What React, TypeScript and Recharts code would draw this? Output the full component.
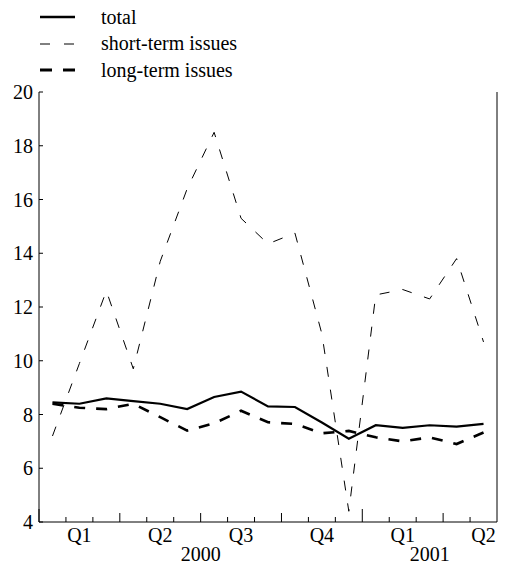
import { LineChart, Line, XAxis, YAxis, Legend } from "recharts";

// monthly figures, Jan 2000 .. May 2001
const months = [
  "Jan 00", "Feb 00", "Mar 00", "Apr 00", "May 00", "Jun 00", "Jul 00", "Aug 00", "Sep 00",
  "Oct 00", "Nov 00", "Dec 00", "Jan 01", "Feb 01", "Mar 01", "Apr 01", "May 01",
];
const total = [8.45, 8.4, 8.6, 8.5, 8.4, 8.2, 8.65, 8.85, 8.3, 8.28, 7.7, 7.1, 7.6, 7.5, 7.6, 7.55, 7.65];
const shortTerm = [7.2, 9.9, 12.6, 9.7, 13.7, 16.4, 18.5, 15.3, 14.35, 14.75, 11.0, 4.4, 12.45, 12.65, 12.3, 13.8, 10.7];
const longTerm = [8.4, 8.25, 8.2, 8.4, 7.9, 7.4, 7.67, 8.14, 7.71, 7.65, 7.3, 7.39, 7.15, 7.0, 7.15, 6.9, 7.33];

// axis labels
const yTicks = [4, 6, 8, 10, 12, 14, 16, 18, 20];
const quarterPos = [1.5, 4.5, 7.5, 10.5, 13.5, 16.5];
const quarterLabels = ["Q1", "Q2", "Q3", "Q4", "Q1", "Q2"];
const yearPos = [6, 14.5];
const yearLabels = ["2000", "2001"];
const monthTicks = months.map((_, i) => i);

const data = months.map((m, i) => ({
  month: m,
  x: i + 0.5,
  total: total[i],
  short: shortTerm[i],
  long: longTerm[i],
}));

const FONT = '"Liberation Serif", "Times New Roman", serif';
const FS = 20;

const XTick = (props: any) => {
  const { x, y, payload } = props;
  const v = payload.value;
  const qi = quarterPos.indexOf(v);
  const yi = yearPos.indexOf(v);
  const isMonth = Number.isInteger(v) && v !== 17;
  let len = 5;
  if (isMonth && v % 12 === 0) len = 13;
  else if (isMonth && v % 3 === 0) len = 9;
  return (
    <g>
      {isMonth && <line x1={x} x2={x} y1={y} y2={y - len} stroke="#000" strokeWidth={1} />}
      {qi >= 0 && (
        <text x={x} y={y + 20} textAnchor="middle" fontSize={FS} fontFamily={FONT} fill="#000">
          {quarterLabels[qi]}
        </text>
      )}
      {yi >= 0 && (
        <text x={x} y={y + 39} textAnchor="middle" fontSize={FS} fontFamily={FONT} fill="#000">
          {yearLabels[yi]}
        </text>
      )}
    </g>
  );
};

const legendItems = [
  { label: "total", width: 2.5, dash: undefined },
  { label: "short-term issues", width: 1, dash: "10 14" },
  { label: "long-term issues", width: 3, dash: "12 11" },
];

const LegendBox = () => (
  <div style={{ fontFamily: FONT, fontSize: FS, color: "#000" }}>
    {legendItems.map((it) => (
      <div key={it.label} style={{ display: "flex", alignItems: "center", height: 26.5 }}>
        <svg width={63} height={10}>
          <line x1={2} x2={37} y1={5} y2={5} stroke="#000" strokeWidth={it.width} strokeDasharray={it.dash} />
        </svg>
        <span>{it.label}</span>
      </div>
    ))}
  </div>
);

export default function App() {
  return (
    <div style={{ width: 530, height: 567, background: "#fff" }}>
      <style>{`body{margin:0}`}</style>
      <LineChart width={530} height={567} data={data} margin={{ top: 92, right: 0, bottom: 0, left: 0 }}>
        <XAxis
          dataKey="x"
          type="number"
          domain={[0, 17]}
          ticks={[...monthTicks, ...quarterPos, 14.5]}
          interval={0}
          tickLine={false}
          tickSize={0}
          tickMargin={0}
          height={45}
          stroke="#000"
          tick={<XTick />}
        />
        <YAxis
          yAxisId="left"
          domain={[4, 20]}
          ticks={yTicks}
          interval={0}
          width={39}
          tickSize={-4}
          tickMargin={10}
          stroke="#000"
          tick={{ fill: "#000", fontSize: FS, fontFamily: FONT }}
        />
        <YAxis
          yAxisId="right"
          orientation="right"
          domain={[4, 20]}
          ticks={yTicks}
          interval={0}
          width={33}
          tickSize={-4}
          tickMargin={14}
          stroke="#000"
          tick={{ fill: "#000", fontSize: FS, fontFamily: FONT, textAnchor: "start" }}
        />
        <Legend
          layout="vertical"
          align="center"
          verticalAlign="middle"
          wrapperStyle={{ top: 4, left: 38, width: 300 }}
          content={<LegendBox />}
        />
        <Line yAxisId="left" dataKey="short" stroke="#000" strokeWidth={1} strokeDasharray="10 13" dot={false} isAnimationActive={false} />
        <Line yAxisId="left" dataKey="long" stroke="#000" strokeWidth={2.6} strokeDasharray="11 11" dot={false} isAnimationActive={false} />
        <Line yAxisId="left" dataKey="total" stroke="#000" strokeWidth={2.2} dot={false} isAnimationActive={false} />
      </LineChart>
    </div>
  );
}
